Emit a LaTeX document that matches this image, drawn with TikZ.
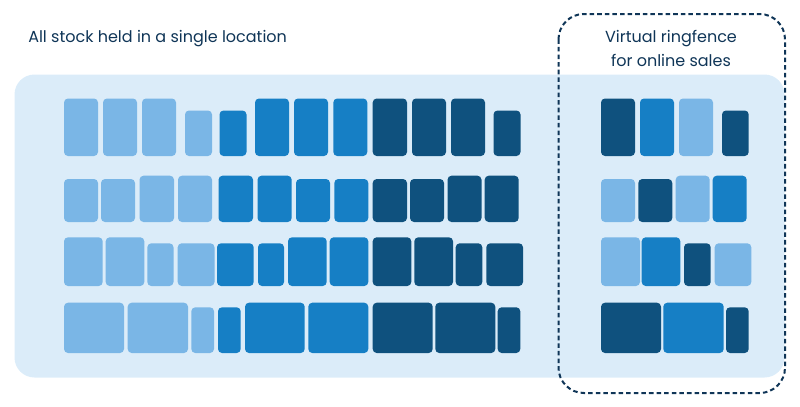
\documentclass[tikz,border=0pt]{standalone}
\usepackage{xcolor}
\usepackage{fontspec}
\setmainfont{Poppins}
\usetikzlibrary{positioning}
\definecolor{lightblock}{HTML}{7AB6E6}
\definecolor{midblock}{HTML}{167FC5}
\definecolor{darkblock}{HTML}{0F517E}
\definecolor{panelblue}{HTML}{DBECF9}
\definecolor{navy}{HTML}{0F3557}
\tikzset{block/.style = {rounded corners=3pt}}
\tikzset{panel/.style = {fill=panelblue,rounded corners=15pt}}
\tikzset{fence/.style = {draw=navy,line width=1.5pt,rounded corners=19pt,dash pattern=on 3.4pt off 2.3pt}}
\tikzset{caption/.style = {text=navy,font=\fontsize{12}{18}\selectfont,inner sep=0pt,align=center}}

\begin{document}
\begin{tikzpicture}[x=0.75pt,y=-0.75pt]
                \useasboundingbox (0,0) rectangle (800,407);
                \fill[panel] (14.5,74.5) rectangle (784.5,377.5);

                \foreach \xa/\xb/\yt/\yb/\col in {
                    64/98/98.5/156/lightblock, 103/137/98.5/156/lightblock, 142/176/98.5/156/lightblock, 185/212/110.5/156/lightblock,
                    219.5/246.5/110.5/156/midblock, 255/289/98.5/156/midblock, 294/328/98.5/156/midblock, 333.3/367.3/98.5/156/midblock,
                    372.7/407/98.5/156/darkblock, 412/446/98.5/156/darkblock, 451/485/98.5/156/darkblock, 493.5/520.5/110.5/156/darkblock,
                    64/98/179/222/lightblock, 101/135/179/222/lightblock, 139.5/174/175.7/222/lightblock, 178/212/175.7/222/lightblock,
                    218.5/253/175.7/222/midblock, 257.5/291.7/175.7/222/midblock, 296/330/179/222/midblock, 334.3/368.3/179/222/midblock,
                    372.7/407/179/222/darkblock, 410/444/179/222/darkblock, 447.5/481.5/175.7/222/darkblock, 484.7/518.7/175.7/222/darkblock,
                    64/102.7/237.3/286/lightblock, 105.7/144.3/237.3/286/lightblock, 147.3/173.5/243.3/286/lightblock, 177.7/214.5/243.3/286/lightblock,
                    217/253.7/243.3/286/midblock, 258/284/243.3/286/midblock, 288/326.7/237.3/286/midblock, 329.7/368.3/237.3/286/midblock,
                    372.7/411.3/237.3/286/darkblock, 414.3/453/237.3/286/darkblock, 455.7/482.3/243.3/286/darkblock, 486.3/523/243.3/286/darkblock,
                    64/124/302.7/353/lightblock, 127.7/188/302.7/353/lightblock, 191.3/214/307.3/353/lightblock,
                    218/240.7/307.3/353/midblock, 245/304.7/302.7/353/midblock, 308.3/368.3/302.7/353/midblock,
                    372.7/432.7/302.7/353/darkblock, 435.3/495.3/302.7/353/darkblock, 497.7/520.3/307.3/353/darkblock,
                    601/635/98.5/156/darkblock, 640/674/98.5/156/midblock, 679/713/98.5/156/lightblock, 722/748.7/110.5/156/darkblock,
                    601/635/179/222/lightblock, 638.3/672.3/179/222/darkblock, 675.7/709.7/175.7/222/lightblock, 712.7/746.7/175.7/222/midblock,
                    601/640/237.3/286/lightblock, 641.7/680.3/237.3/286/midblock, 684/710.7/243.3/286/darkblock, 714.7/751.3/243.3/286/lightblock,
                    601/661/302.7/353/darkblock, 663.3/723.7/302.7/353/midblock, 726/748.7/307.3/353/darkblock}
                    \fill[block,\col] (\xa,\yt) rectangle (\xb,\yb);

                \draw[fence] (558.5,14) rectangle (785,393);

                \node[caption,anchor=west] (single) at (28,38.5) {All stock held in a single location};
                \node[caption] (ringfence) at (671,48) {Virtual ringfence\\for online sales};
            \end{tikzpicture}
\end{document}
